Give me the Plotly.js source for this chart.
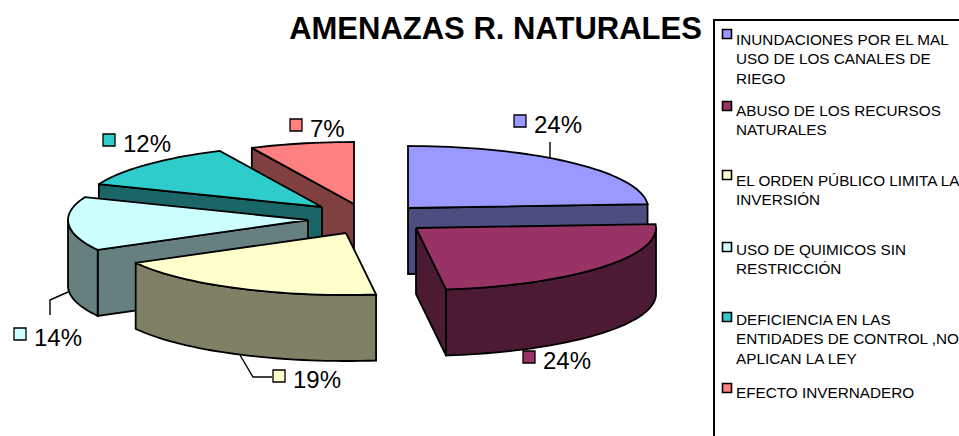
<!DOCTYPE html>
<html>
<head>
<meta charset="utf-8">
<script src="https://cdn.plot.ly/plotly-3.0.1.min.js"></script>
<style>html,body{margin:0;padding:0;background:#fff;overflow:hidden}#c{width:959px;height:436px}</style>
</head>
<body>
<div id="c"></div>
<script>
// Data
const categories = [
  "INUNDACIONES POR EL MAL<br>USO DE LOS CANALES DE<br>RIEGO",
  "ABUSO DE LOS RECURSOS<br>NATURALES",
  "EL ORDEN PÚBLICO LIMITA LA<br>INVERSIÓN",
  "USO DE QUIMICOS SIN<br>RESTRICCIÓN",
  "DEFICIENCIA EN LAS<br>ENTIDADES DE CONTROL ,NO<br>APLICAN LA LEY",
  "EFECTO INVERNADERO"
];
const values = [24, 24, 19, 14, 12, 7];
const topColors = ["#9999FF", "#993366", "#FFFFCC", "#CCFFFF", "#2FCCCC", "#FF8080"];
const sideColors = ["#4D4D80", "#4D1A33", "#808066", "#668080", "#1A6666", "#804040"];

// Styling / projection constants (pixels on a 959x436 axis)
const RX = 240, RY = 62, DEPTH = 66;
const apexX = [408, 416, 346, 308, 322, 354];
const apexY = [208, 228, 233, 220, 207, 204];
const drawOrder = [5, 4, 3, 0, 2, 1];
const labelPos = [[534,124],[543,360],[293,379],[34,337],[123,143],[310,128]];
const legendRowY = [39, 110, 180, 249, 319, 392];
const legendSwatchY = [34, 106, 175, 247, 317, 388];
const LINE_PITCH = 19.6;

const total = values.reduce((a, b) => a + b, 0);
const rad = d => d * Math.PI / 180;
const starts = [];
let acc = 0;
values.forEach(v => { starts.push(acc / total * 360); acc += v; });

function rim(i, deg, dz) {
  return [apexX[i] + RX * Math.sin(rad(deg)), apexY[i] - RY * Math.cos(rad(deg)) + dz];
}
function arc(i, a, b, dz) {
  const pts = [];
  const n = Math.max(2, Math.ceil(Math.abs(b - a) / 2));
  for (let k = 0; k <= n; k++) pts.push(rim(i, a + (b - a) * k / n, dz));
  return pts;
}
function poly(pts, color) {
  return {
    type: "scatter", mode: "lines", fill: "toself", fillcolor: color,
    x: pts.map(p => p[0]).concat(pts[0][0]),
    y: pts.map(p => p[1]).concat(pts[0][1]),
    line: { color: "#000", width: 1.8, simplify: false },
    hoverinfo: "skip", showlegend: false
  };
}

const traces = [];
drawOrder.forEach(i => {
  const a = starts[i], b = a + values[i] / total * 360;
  const apex = [apexX[i], apexY[i]];
  const apexLow = [apexX[i], apexY[i] + DEPTH];
  // radial cut face turned toward the viewer
  if (b < 180) traces.push(poly([apex, rim(i, b, 0), rim(i, b, DEPTH), apexLow], sideColors[i]));
  if (a > 180) traces.push(poly([apex, rim(i, a, 0), rim(i, a, DEPTH), apexLow], sideColors[i]));
  // outer wall: front half of the rim only
  const f0 = Math.max(a, 90), f1 = Math.min(b, 270);
  if (f1 > f0) traces.push(poly(arc(i, f0, f1, 0).concat(arc(i, f1, f0, DEPTH)), sideColors[i]));
  // top face
  traces.push(poly([apex].concat(arc(i, a, b, 0)), topColors[i]));
});

// Legend swatches
traces.push({
  type: "scatter", mode: "markers", x: categories.map(() => 727), y: legendSwatchY,
  marker: { symbol: "square", size: 9, color: topColors, line: { color: "#000", width: 1.6 } },
  text: categories, hoverinfo: "text", showlegend: false
});
// Data-label swatches
traces.push({
  type: "scatter", mode: "markers",
  x: labelPos.map(p => p[0] - 14), y: labelPos.map(p => p[1] - 3),
  marker: { symbol: "square", size: 12, color: topColors, line: { color: "#000", width: 1.3 } },
  hoverinfo: "skip", showlegend: false
});

const FONT = "Liberation Sans, Arial, sans-serif";
const annotations = [];
values.forEach((v, i) => annotations.push({
  text: v + "%", x: labelPos[i][0], y: labelPos[i][1], xref: "x", yref: "y",
  xanchor: "left", yanchor: "middle", showarrow: false, xshift: -2,
  font: { family: FONT, size: 24, color: "#000" }
}));
categories.forEach((c, i) => c.split("<br>").forEach((line, k) => annotations.push({
  text: line, x: 736, y: legendRowY[i] + k * LINE_PITCH, xref: "x", yref: "y",
  xanchor: "left", yanchor: "middle", showarrow: false, xshift: -2,
  font: { family: FONT, size: 15.3, color: "#000" }
})));

const leader = (path) => ({ type: "path", path, xref: "x", yref: "y", line: { color: "#000", width: 1.4 } });
const shapes = [
  { type: "rect", x0: 714, y0: 20, x1: 975, y1: 450, xref: "x", yref: "y", line: { color: "#000", width: 2 }, fillcolor: "rgba(0,0,0,0)" },
  leader("M550,142 L550,158"),
  leader("M240,355 L253,377 L272,377"),
  leader("M68,292 L50,300 L50,315")
];

Plotly.newPlot("c", traces, {
  width: 959, height: 436,
  margin: { l: 0, r: 0, t: 0, b: 0 },
  paper_bgcolor: "#fff", plot_bgcolor: "#fff",
  title: { text: "<b>AMENAZAS R. NATURALES</b>", x: 495.5 / 959, xanchor: "center", y: 1 - 28 / 436, yanchor: "middle",
           font: { family: FONT, size: 31, color: "#000" } },
  xaxis: { range: [0, 959], visible: false, fixedrange: true },
  yaxis: { range: [436, 0], visible: false, fixedrange: true },
  showlegend: false,
  shapes, annotations
}, { displayModeBar: false, staticPlot: true });
</script>
</body>
</html>
